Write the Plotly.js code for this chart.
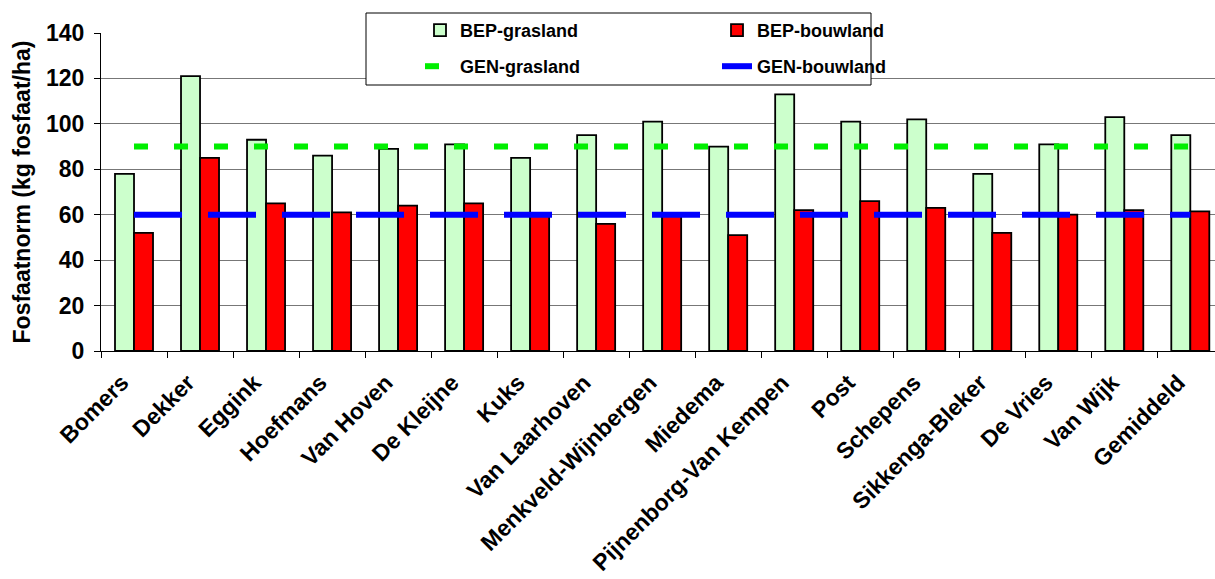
<!DOCTYPE html>
<html>
<head>
<meta charset="utf-8">
<script src="https://cdn.plot.ly/plotly-3.0.1.min.js"></script>
<style>html,body{margin:0;padding:0;background:#fff;}#chart{width:1215px;height:579px;}</style>
</head>
<body>
<div id="chart"></div>
<script>
var categories = ["Bomers","Dekker","Eggink","Hoefmans","Van Hoven","De Kleijne","Kuks","Van Laarhoven","Menkveld-Wijnbergen","Miedema","Pijnenborg-Van Kempen","Post","Schepens","Sikkenga-Bleker","De Vries","Van Wijk","Gemiddeld"];
var bepGrasland = [78,121,93,86,89,91,85,95,101,90,113,101,102,78,91,103,95];
var bepBouwland = [52,85,65,61,64,65,60,56,60,51,62,66,63,52,60,62,61.5];
var genGrasland = [90,90,90,90,90,90,90,90,90,90,90,90,90,90,90,90,90];
var genBouwland = [60,60,60,60,60,60,60,60,60,60,60,60,60,60,60,60,60];
var yTicks = [0,20,40,60,80,100,120,140];

var FONT = "Liberation Sans, Arial, sans-serif";

var traces = [
  {type:'bar', name:'BEP-grasland', x:categories, y:bepGrasland,
   marker:{color:'#CCFFCC', line:{color:'#000', width:1.8}}, legend:'legend'},
  {type:'bar', name:'BEP-bouwland', x:categories, y:bepBouwland,
   marker:{color:'#FF0000', line:{color:'#000', width:1.8}}, legend:'legend'},
  {type:'scatter', mode:'lines', name:'GEN-grasland', x:categories, y:genGrasland,
   line:{color:'#00EE00', width:6, dash:'14px,26px'}, legend:'legend2'},
  {type:'scatter', mode:'lines', name:'GEN-bouwland', x:categories, y:genBouwland,
   line:{color:'#0000FF', width:6, dash:'48px,26px'}, legend:'legend2'}
];

var layout = {
  width:1215, height:579,
  margin:{l:101, r:0, t:33, b:228, autoexpand:false},
  paper_bgcolor:'#fff', plot_bgcolor:'#fff',
  font:{family:FONT, size:20, color:'#000', weight:700},
  barmode:'group', bargap:0.424, bargroupgap:0,
  showlegend:true,
  xaxis:{
    type:'category', range:[-0.5, 16.374],
    showline:true, linecolor:'#000', linewidth:1,
    ticks:'outside', tickson:'boundaries', ticklen:6, tickcolor:'#000',
    tickangle:-45, tickfont:{family:FONT, size:23, weight:700},
    ticklabelstandoff:8, ticklabelshift:-12,
    showgrid:false, automargin:false
  },
  yaxis:{
    range:[0,140], tickvals:yTicks, ticktext:yTicks.map(String),
    showline:true, linecolor:'#000', linewidth:1,
    ticks:'outside', ticklen:6, tickcolor:'#000',
    tickfont:{family:FONT, size:23, weight:700},
    ticklabelstandoff:5,
    showgrid:true, gridcolor:'#777', gridwidth:1, zeroline:false,
    title:{text:'Fosfaatnorm (kg fosfaat/ha)', font:{family:FONT, size:23, weight:700}, standoff:8},
    automargin:false
  },
  legend:{
    orientation:'h', xref:'container', yref:'container',
    x:420/1215, y:1-12/579, xanchor:'left', yanchor:'top',
    entrywidth:252, entrywidthmode:'pixels',
    bgcolor:'rgba(0,0,0,0)', borderwidth:0,
    font:{family:FONT, size:18, weight:700}, traceorder:'normal'
  },
  legend2:{
    orientation:'h', xref:'container', yref:'container',
    x:420/1215, y:1-48/579, xanchor:'left', yanchor:'top',
    entrywidth:252, entrywidthmode:'pixels',
    bgcolor:'rgba(0,0,0,0)', borderwidth:0,
    font:{family:FONT, size:18, weight:700}, traceorder:'normal'
  },
  shapes:[
    {type:'rect', xref:'paper', yref:'paper', layer:'above',
     x0:(366-101)/1114, x1:(871-101)/1114, y0:(351-85)/318, y1:(351-13)/318,
     line:{color:'#000', width:1}, fillcolor:'rgba(255,255,255,1)'}
  ]
};

Plotly.newPlot('chart', traces, layout, {displayModeBar:false, staticPlot:true});
</script>
</body>
</html>
